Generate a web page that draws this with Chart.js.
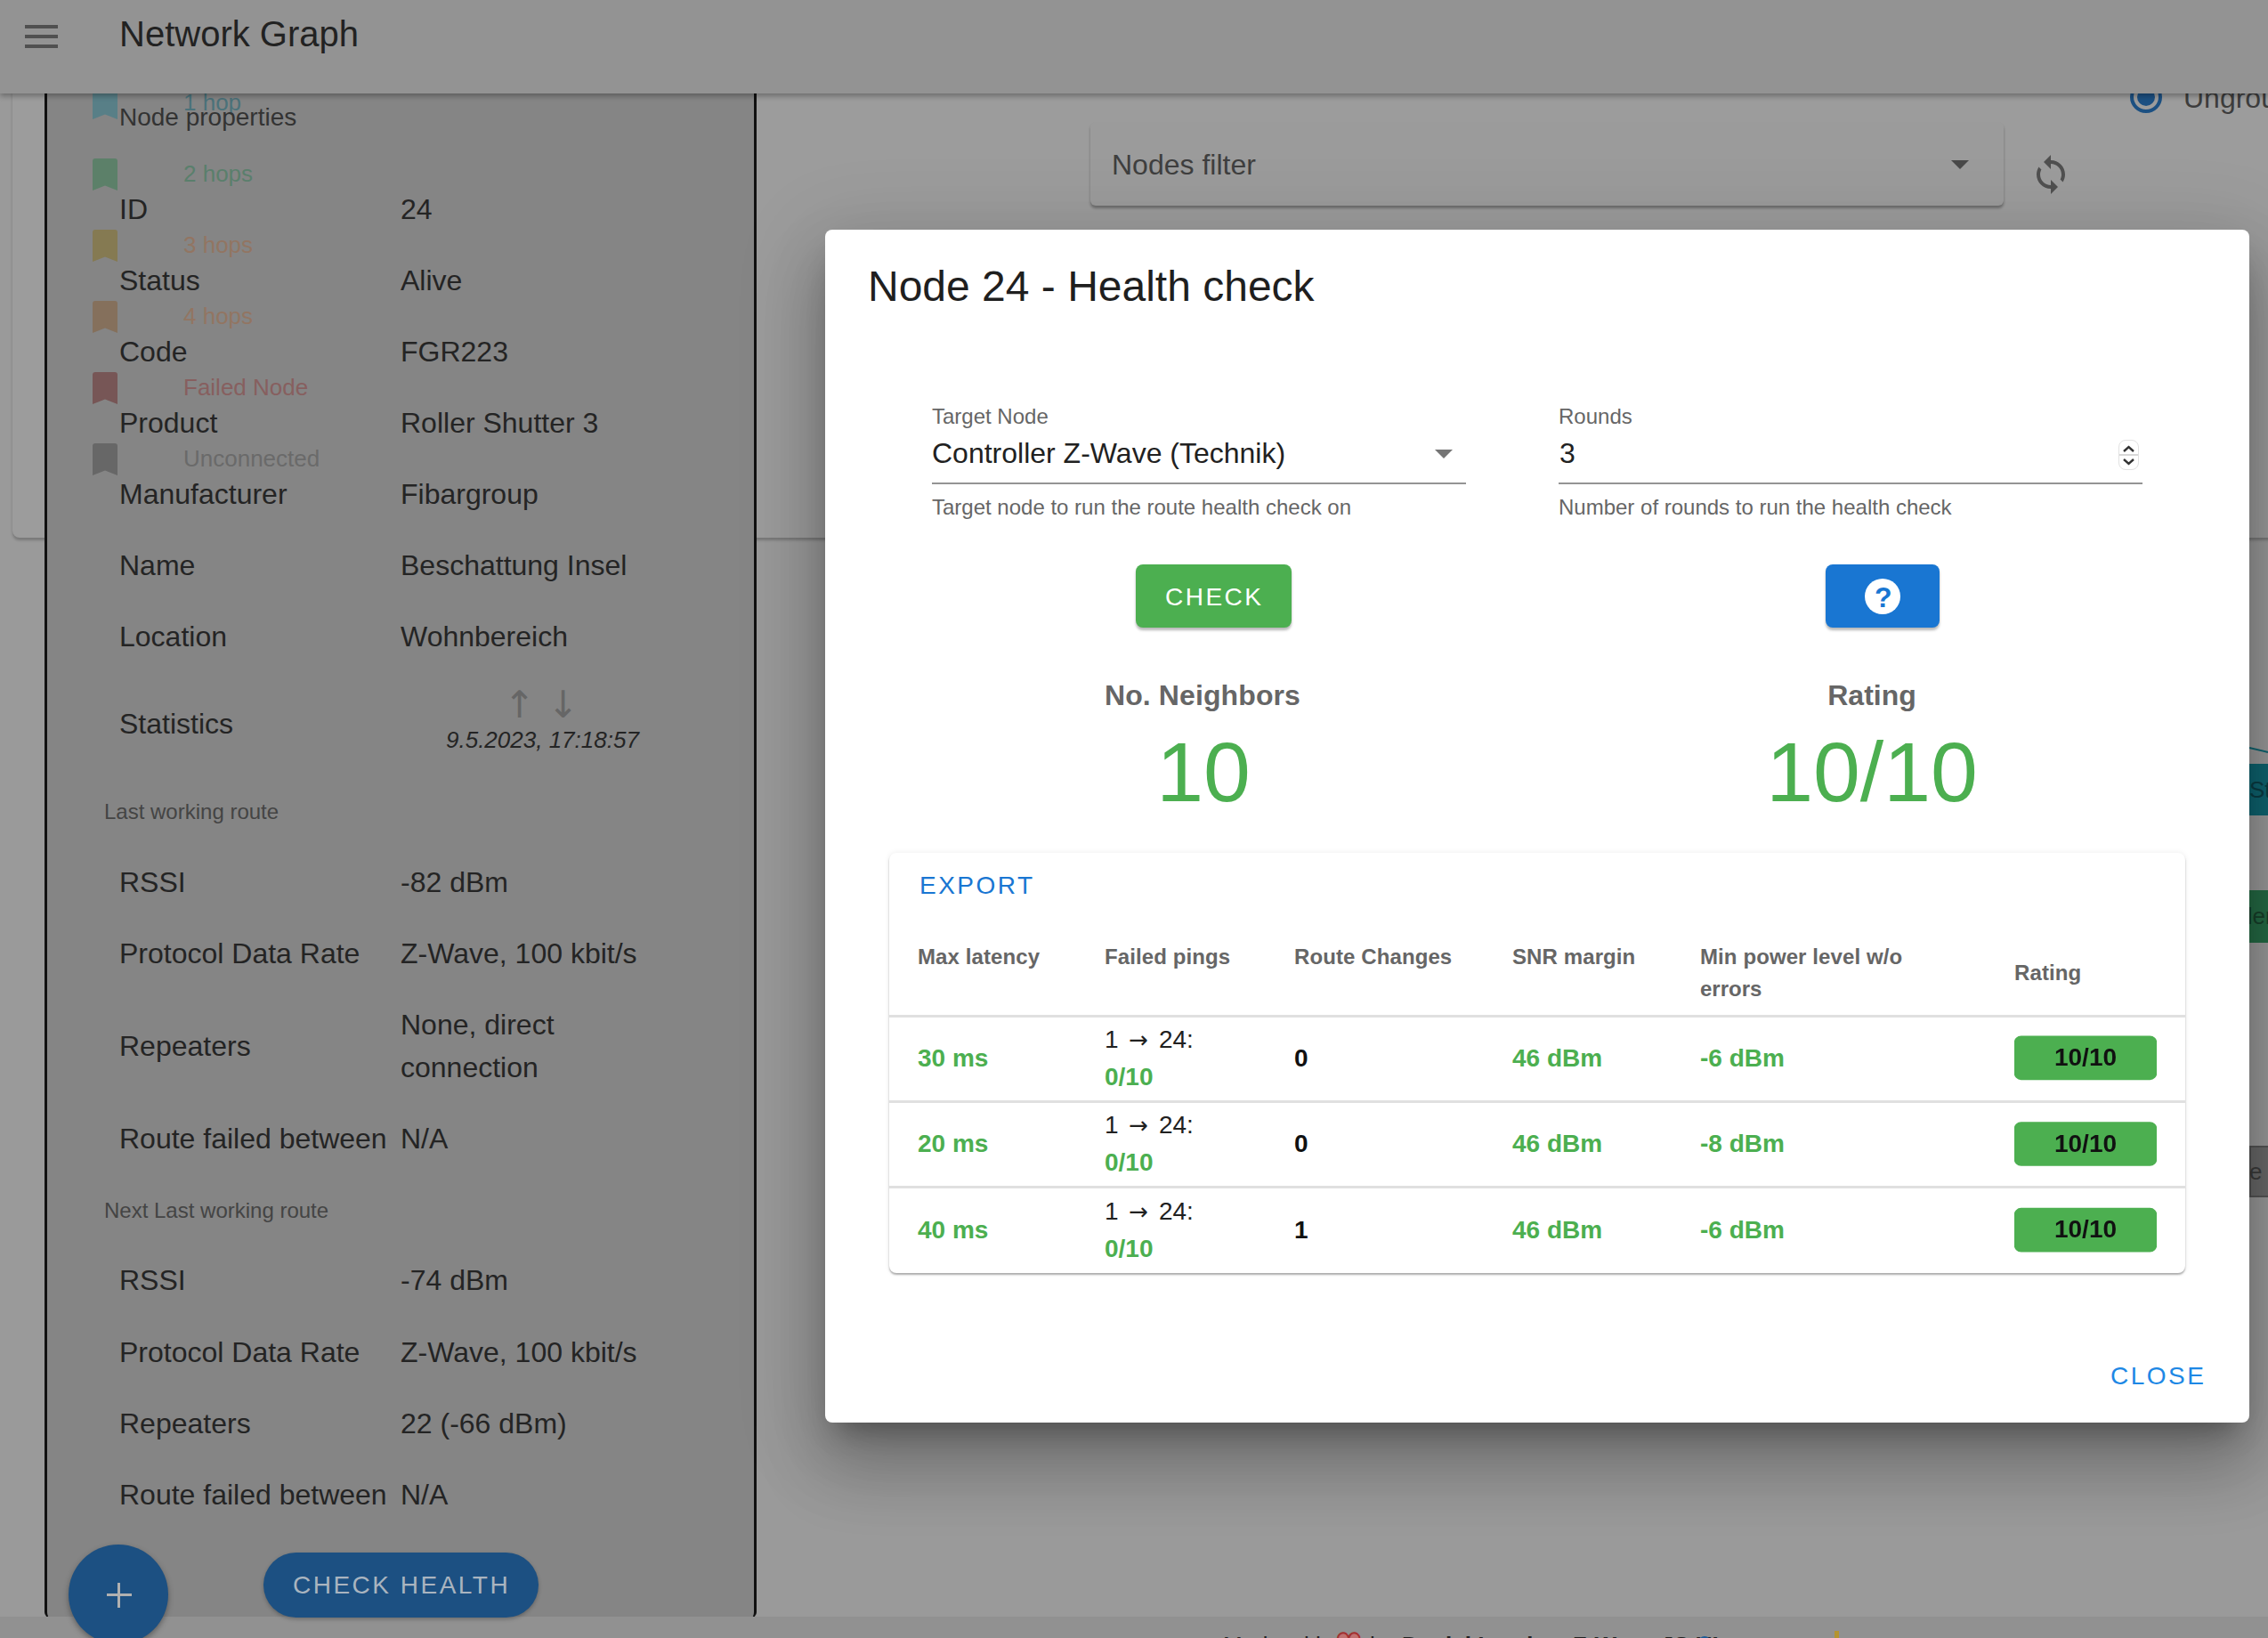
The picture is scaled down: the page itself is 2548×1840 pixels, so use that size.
<!DOCTYPE html>
<html><head><meta charset="utf-8">
<script src="https://cdn.jsdelivr.net/npm/chart.js@4"></script>
<style>
html,body{margin:0;padding:0;width:2548px;height:1840px;overflow:hidden;background:#9a9a9a;font-family:"Liberation Sans",Arial,sans-serif}
.b{position:absolute;box-sizing:border-box}
.t{position:absolute;white-space:nowrap;transform:translateY(-50%);line-height:1}
svg{position:absolute;overflow:visible}
</style></head><body>
<div id="root"></div>
<script>
const legendLabels=["1 hop","2 hops","3 hops","4 hops","Failed Node","Unconnected"];
const propertyLabels=["ID","Status","Code","Product","Manufacturer","Name","Location"];
const propertyValues=["24","Alive","FGR223","Roller Shutter 3","Fibargroup","Beschattung Insel","Wohnbereich"];
const lastRouteLabels=["RSSI","Protocol Data Rate","Repeaters","Route failed between"];
const lastRouteValues=["-82 dBm","Z-Wave, 100 kbit/s","None, direct|connection","N/A"];
const nextRouteValues=["-74 dBm","Z-Wave, 100 kbit/s","22 (-66 dBm)","N/A"];
const tableHeaders=["Max latency","Failed pings","Route Changes","SNR margin","Min power level w/o|errors","Rating"];
const roundLabels=["Round 1","Round 2","Round 3"];
const maxLatency=["30 ms","20 ms","40 ms"];
const failedRoute=["1 → 24:","1 → 24:","1 → 24:"];
const failedPings=["0/10","0/10","0/10"];
const routeChanges=["0","0","1"];
const snrMargin=["46 dBm","46 dBm","46 dBm"];
const minPowerLevel=["-6 dBm","-8 dBm","-6 dBm"];
const ratings=[10,10,10];

const root=document.getElementById('root');
function B(x,y,w,h,bg,extra){const d=document.createElement('div');d.className='b';
 d.style.cssText=`left:${x}px;top:${y}px;width:${w}px;height:${h}px;background:${bg};${extra||''}`;root.appendChild(d);return d;}
function T(x,y,s,size,color,extra){const d=document.createElement('div');d.className='t';d.textContent=s;
 d.style.cssText=`left:${x}px;top:${y}px;font-size:${size}px;color:${color};${extra||''}`;root.appendChild(d);return d;}
function S(x,y,w,h,vb,body){const d=document.createElement('div');
 d.innerHTML=`<svg xmlns="http://www.w3.org/2000/svg" style="left:${x}px;top:${y}px" width="${w}" height="${h}" viewBox="${vb}">${body}</svg>`;root.appendChild(d);}
const GREEN='#4caf50',INK='#242424',BOLD='font-weight:700;';

/* page background: top card, graph nodes */
B(14,60,2600,544,'#9c9c9c','border-radius:8px;box-shadow:0 3px 3px rgba(0,0,0,.22)');
T(2453,110,'Ungrouped',32,'#3d3d3d');
B(2393,91,36,36,'transparent','border:4px solid #1c5082;border-radius:50%');
B(2401,99,20,20,'#1c5082','border-radius:50%');
B(1225,137,1026,94,'#9b9b9b','border-radius:6px;box-shadow:0 3px 3px rgba(0,0,0,.3)');
T(1249,185,'Nodes filter',32,'#3f3f3f');
B(2192,180,20,10,'#4a4a4a','clip-path:polygon(0 0,100% 0,50% 100%)');
S(2280,172,48,48,'0 0 24 24','<path fill="#505050" d="M12 4V1L8 5l4 4V6c3.31 0 6 2.69 6 6 0 1.01-.25 1.97-.7 2.8l1.46 1.46C19.54 15.03 20 13.57 20 12c0-4.42-3.58-8-8-8zm0 14c-3.31 0-6-2.69-6-6 0-1.01.25-1.97.7-2.8L5.24 7.74C4.46 8.97 4 10.43 4 12c0 4.42 3.58 8 8 8v3l4-4-4-4v3z"/>');
S(2527,835,21,12,'0 0 21 12','<path d="M0 5 L21 10" stroke="#0f6470" stroke-width="2" fill="none"/>');
B(2527,858,30,58,'#0f6470');T(2527,887,'Ste',26,'#0a3c44');
B(2527,1000,30,59,'#256b45');T(2527,1029,'ller',26,'#17402a','margin-left:-8px;');
B(2527,1287,30,58,'#6a6a6a','border:2px solid #555;border-right:none;');T(2527,1316,'e',26,'#3c3c3c');

/* left panel */
B(50,60,800,1757,'#858585','border:3px solid #111;border-bottom:none;border-radius:0 0 6px 6px');
const legendSwatches=['#587f87','#5c8069','#857a52','#85705c','#775656','#676767'];
const legendText=['#4b727a','#5a7f6c','#927562','#927562','#875f5f','#6a6a6a'];
legendLabels.forEach((s,i)=>{
 const y=98+i*80;
 B(104,y,28,36,legendSwatches[i],'clip-path:polygon(0 0,100% 0,100% 100%,50% 85%,0 100%);border-radius:3px 3px 0 0');
 T(206,115+i*80,s,26,legendText[i]);
});
T(134,132,'Node properties',28,'#333');
propertyLabels.forEach((s,i)=>{const y=235+i*80;T(134,y,s,32,INK);T(450,y,propertyValues[i],32,INK);});
T(134,813,'Statistics',32,INK);
T(566,792,'↑',42,'#666','font-family:"DejaVu Sans";');
T(615,792,'↓',42,'#666','font-family:"DejaVu Sans";');
T(501,831,'9.5.2023, 17:18:57',26,INK,'font-style:italic;');
T(117,912,'Last working route',24,'#444');
const lastY=[991,1071,1175,1279];
lastRouteLabels.forEach((s,i)=>{T(134,lastY[i],s,32,INK);
 const v=lastRouteValues[i].split('|');
 if(v.length>1){T(450,1151,v[0],32,INK);T(450,1199,v[1],32,INK);} else T(450,lastY[i],v[0],32,INK);});
T(117,1360,'Next Last working route',24,'#444');
const nextY=[1438,1519,1599,1679];
lastRouteLabels.forEach((s,i)=>{T(134,nextY[i],s,32,INK);T(450,nextY[i],nextRouteValues[i],32,INK);});

/* footer */
B(0,1816,2548,24,'#919191');
T(1374,1848,'Made with',26,'#222');
T(1500,1847,'♥',34,'#c07070','font-family:"DejaVu Sans";-webkit-text-stroke:2px #a33030;');
T(1539,1848,'by',26,'#222');
T(1575,1848,'Daniel Lando',26,'#222',BOLD);
T(1767,1848,'Z-Wave JS UI',26,'#222',BOLD);
B(1908,1838,14,14,'#1c5a96','border-radius:50%');
B(2061,1832,5,10,'#b49430');

/* FAB and health button */
B(77,1735,112,112,'#1c5082','border-radius:50%;box-shadow:0 3px 6px rgba(0,0,0,.35)');
B(120,1790,28,3,'#b0b0b0');B(132,1778,3,28,'#b0b0b0');
B(296,1744,309,73,'#1c5082','border-radius:37px;box-shadow:0 2px 4px rgba(0,0,0,.25)');
T(329,1781,'CHECK HEALTH',28,'#a9b4bf','letter-spacing:2.5px;');

/* top bar */
B(0,0,2548,105,'#939393','box-shadow:0 3px 6px rgba(0,0,0,.3)');
[28,39,50].forEach(y=>B(28,y,37,3.5,'#505050'));
T(134,38,'Network Graph',40,'#222');

/* dialog */
B(927,258,1600,1340,'#fff','border-radius:8px;box-shadow:0 22px 30px -14px rgba(0,0,0,.3),0 48px 76px 6px rgba(0,0,0,.2),0 18px 92px 16px rgba(0,0,0,.12)');
T(975,322,'Node 24 - Health check',48,'#1f1f1f');
T(1047,468,'Target Node',24,'#666');
T(1047,509,'Controller Z-Wave (Technik)',32,'#212121');
B(1047,542,600,2,'#949494');
B(1612,505,20,10,'#757575','clip-path:polygon(0 0,100% 0,50% 100%)');
T(1047,570,'Target node to run the route health check on',24,'#666');
T(1751,468,'Rounds',24,'#666');
T(1752,509,'3',32,'#212121');
B(1751,542,656,2,'#949494');
B(2380,494,23,34,'#fff','border:1px solid #e2e2e2;border-radius:8px');
B(2381,510,21,2,'#d8d8d8');
S(2380,494,23,34,'0 0 23 34','<path d="M6 13 L11.5 8 L17 13 M6 22 L11.5 27 L17 22" stroke="#333" stroke-width="2.4" fill="none"/>');
T(1751,570,'Number of rounds to run the health check',24,'#666');
B(1276,634,175,71,GREEN,'border-radius:8px;box-shadow:0 3px 3px rgba(0,0,0,.28)');
T(1309,671,'CHECK',28,'#fff','letter-spacing:2.5px;');
B(2051,634,128,71,'#1976d2','border-radius:8px;box-shadow:0 3px 3px rgba(0,0,0,.28)');
B(2095,650,40,40,'#fff','border-radius:50%');
T(2106,671,'?',32,'#1976d2',BOLD);
const c1=T(1351,781,'No. Neighbors',32,'#666',BOLD+'letter-spacing:.1px;');c1.style.transform='translate(-50%,-50%)';
const c2=T(2103,781,'Rating',32,'#666',BOLD);c2.style.transform='translate(-50%,-50%)';
const n1=T(1352,867,'10',95,GREEN);n1.style.transform='translate(-50%,-50%)';
const n2=T(2103,867,'10/10',95,GREEN);n2.style.transform='translate(-50%,-50%)';

/* table */
B(999,958,1456,472,'#fff','border-radius:8px;box-shadow:0 2px 2px rgba(0,0,0,.3),0 0 6px rgba(0,0,0,.08)');
T(1033,995,'EXPORT',28,'#1976d2','letter-spacing:2.5px;');
const colX=[1031,1241,1454,1699,1910,2263];
tableHeaders.forEach((s,i)=>{const p=s.split('|');
 if(p.length>1){T(colX[i],1075,p[0],24,'#666',BOLD+'letter-spacing:.1px;');T(colX[i],1111,p[1],24,'#666',BOLD);}
 else T(colX[i],i==5?1093:1075,s,24,'#666',BOLD+'letter-spacing:.1px;');});
[1141,1237,1333].forEach(y=>B(999,y-1,1456,3,'#e0e0e0'));
const rowY=[1189,1285,1382];
rowY.forEach((y,i)=>{
 T(colX[0],y,maxLatency[i],28,GREEN,BOLD);
 const fr=T(colX[1],y-21,'',28,'#212121');
 const parts=failedRoute[i].split('→');
 fr.append(parts[0]);const ar=document.createElement('span');ar.textContent='→';ar.style.cssText='font-family:"DejaVu Sans";font-size:26px;margin:0 4px';fr.append(ar);fr.append(parts[1]);
 T(colX[1],y+21,failedPings[i],28,GREEN,BOLD);
 T(colX[2],y,routeChanges[i],28,'#111',BOLD);
 T(colX[3],y,snrMargin[i],28,GREEN,BOLD);
 T(colX[4],y,minPowerLevel[i],28,GREEN,BOLD);
});
T(2371,1546,'CLOSE',28,'#1e88e5','letter-spacing:2.5px;');

/* rating bars drawn by Chart.js */
const cv=document.createElement('canvas');
cv.style.cssText='position:absolute;left:2263px;top:1140px;width:160px;height:290px';
cv.width=160;cv.height=290;root.appendChild(cv);
const ratingText={id:'ratingText',afterDatasetsDraw(ch){
 const c=ch.ctx;c.save();c.font='700 28px "Liberation Sans"';c.fillStyle='#111';c.textAlign='center';c.textBaseline='middle';
 ch.getDatasetMeta(0).data.forEach((el,i)=>c.fillText(ratings[i]+'/10',(el.x+el.base)/2,el.y+1));
 c.restore();}};
new Chart(cv,{type:'bar',
 data:{labels:roundLabels,datasets:[{label:'Rating',data:ratings,backgroundColor:GREEN,borderWidth:0,borderRadius:8,borderSkipped:false,barThickness:49}]},
 options:{indexAxis:'y',responsive:false,animation:false,devicePixelRatio:1,
  layout:{padding:0},
  plugins:{legend:{display:false},tooltip:{enabled:false},title:{display:false}},
  scales:{x:{display:false,min:0,max:10},y:{display:false}}},
 plugins:[ratingText]});
</script>
</body></html>
